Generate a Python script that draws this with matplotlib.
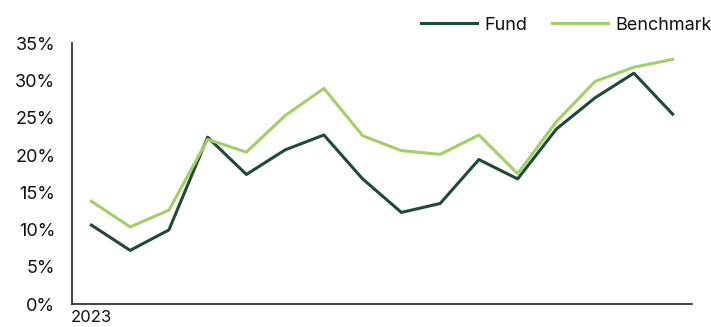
import matplotlib
matplotlib.use("Agg")
import matplotlib.pyplot as plt
from matplotlib.ticker import PercentFormatter

plt.rcParams['font.family'] = ['Inter', 'DejaVu Sans']

# values (percent)
periods = list(range(16))
period_labels = ["2023"] + [""] * 15
fund = [10.6, 7.2, 9.95, 22.4, 17.4, 20.7, 22.7, 16.8, 12.3, 13.5,
        19.4, 16.8, 23.5, 27.7, 31.0, 25.5]
benchmark = [13.8, 10.35, 12.6, 22.1, 20.4, 25.3, 28.95, 22.6, 20.6, 20.1,
             22.7, 17.5, 24.5, 29.9, 31.8, 32.85]

fund_color = "#1f4a38"
bench_color = "#a1cf68"

fig = plt.figure(figsize=(7.11, 3.27), dpi=100)
ax = fig.add_axes([0.1013, 0.0703, 0.872, 0.797])

ax.plot(periods, fund, color=fund_color, lw=2.2, label="Fund")
ax.plot(periods, benchmark, color=bench_color, lw=2.2, label="Benchmark")

ax.set_xlim(-0.5, len(periods) - 0.5)
ax.set_ylim(0, 35)
ax.set_yticks(range(0, 36, 5))
ax.yaxis.set_major_formatter(PercentFormatter(decimals=0))
ax.set_xticks(periods)
ax.set_xticklabels(period_labels)

ax.tick_params(axis='y', length=0, pad=12, labelsize=13, labelcolor="#111111")
ax.tick_params(axis='x', length=0, pad=4, labelsize=12, labelcolor="#111111")

for side in ("top", "right"):
    ax.spines[side].set_visible(False)
for side in ("left", "bottom"):
    ax.spines[side].set_color("#222222")
    ax.spines[side].set_linewidth(1.2)

ax.legend(loc="upper right", bbox_to_anchor=(1.058, 1.165), ncol=2,
          frameon=False, fontsize=13, handlelength=3.1, handletextpad=0.4,
          columnspacing=1.4, labelcolor="#111111")

fig.savefig("out.png", dpi=100)
